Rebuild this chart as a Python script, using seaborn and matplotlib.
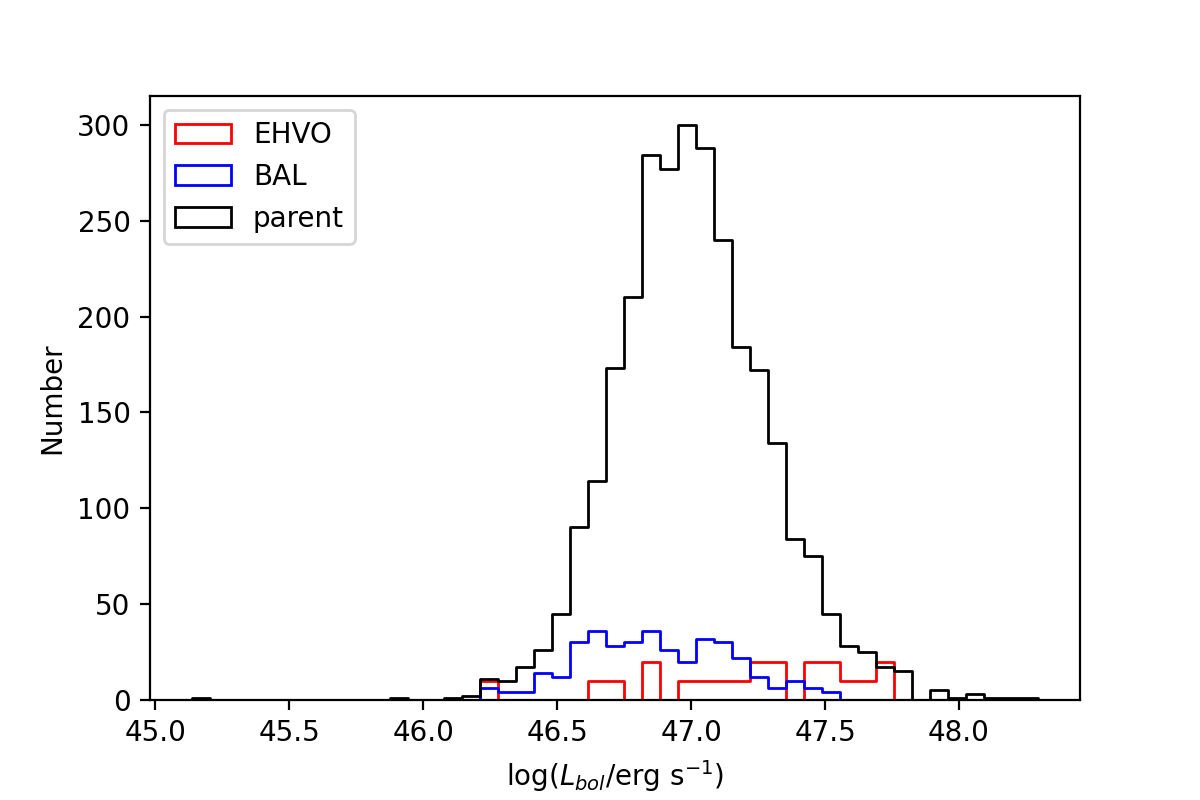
import numpy as np
import pandas as pd
import matplotlib
matplotlib.use("Agg")
import matplotlib.pyplot as plt
import seaborn as sns
from matplotlib.patches import Patch

# ---- data ----
bin_start = 45.138
bin_width = 0.06715
n_bins = 47

parent_counts = [1, 0, 0, 0, 0, 0, 0, 0, 0, 0,
                 0, 1, 0, 0, 1, 2, 11, 10, 17, 26,
                 45, 90, 114, 173, 210, 284, 277, 300, 288, 240,
                 184, 172, 134, 84, 75, 45, 28, 25, 17, 15,
                 0, 5, 1, 3, 1, 1, 1]
bal_counts = [0, 0, 0, 0, 0, 0, 0, 0, 0, 0,
              0, 0, 0, 0, 0, 0, 6, 4, 4, 14,
              12, 30, 36, 28, 30, 36, 26, 20, 32, 30,
              22, 12, 6, 10, 6, 4, 0, 0, 0, 0,
              0, 0, 0, 0, 0, 0, 0]
ehvo_counts = [0, 0, 0, 0, 0, 0, 0, 0, 0, 0,
               0, 0, 0, 0, 0, 0, 10, 0, 0, 0,
               0, 0, 10, 10, 0, 20, 0, 10, 10, 10,
               10, 20, 20, 0, 20, 20, 10, 10, 20, 0,
               0, 0, 0, 0, 0, 0, 0]

series_names = ["EHVO", "BAL", "parent"]
series_counts = [ehvo_counts, bal_counts, parent_counts]
series_colors = ["red", "blue", "black"]

# bin edges, padded by one empty bin on each side so the step outline drops to zero
edges = bin_start + bin_width * np.arange(-1, n_bins + 2)
centers = 0.5 * (edges[:-1] + edges[1:])
edge_list = [float(e) for e in edges]

frames = []
for name, counts in zip(series_names, series_counts):
    w = np.concatenate([[0], counts, [0]])
    frames.append(pd.DataFrame({"x": centers, "w": w, "series": name}))
df = pd.concat(frames, ignore_index=True)

fig = plt.figure(figsize=(6, 4), dpi=200)
ax = fig.add_subplot(111)
fig.subplots_adjust(left=0.125, right=0.9, top=0.88, bottom=0.125)

for name, col in zip(series_names, series_colors):
    sns.histplot(data=df[df["series"] == name], x="x", weights="w", bins=edge_list,
                 element="step", fill=False, color=col, linewidth=1.0, ax=ax)

data_lo = bin_start
data_hi = bin_start + n_bins * bin_width
pad = 0.05 * (data_hi - data_lo)
ax.set_xlim(data_lo - pad, data_hi + pad)
ax.set_ylim(0, 1.05 * max(parent_counts))

ax.set_xlabel(r"log($L_{bol}$/erg s$^{-1}$)")
ax.set_ylabel("Number")

handles = [Patch(facecolor="none", edgecolor=c, linewidth=1.0) for c in series_colors]
ax.legend(handles, series_names, loc="upper left")

fig.savefig("out.png", dpi=200)
